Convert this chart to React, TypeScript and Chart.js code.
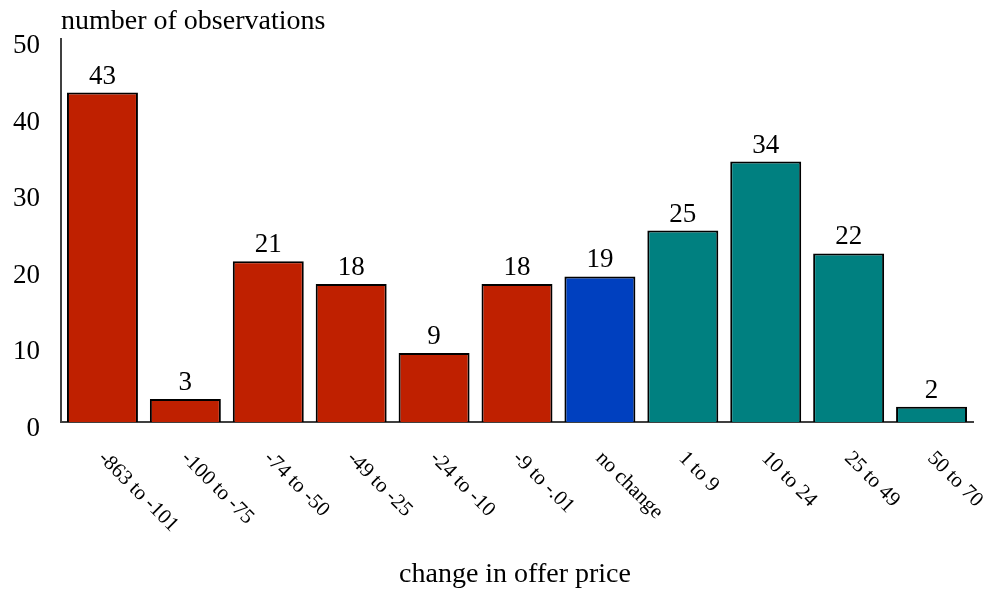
import { useEffect, useRef } from "react";
import { Chart, registerables } from "chart.js";

Chart.register(...registerables);

const categories = [
  "-863 to -101",
  "-100 to -75",
  "-74 to -50",
  "-49 to -25",
  "-24 to -10",
  "-9 to -.01",
  "no change",
  "1 to 9",
  "10 to 24",
  "25 to 49",
  "50 to 70",
];
const observations = [43, 3, 21, 18, 9, 18, 19, 25, 34, 22, 2];
const yTicks = [0, 10, 20, 30, 40, 50];

const RED = "#bf2000";
const BLUE = "#0040bf";
const TEAL = "#008080";
const barColors = categories.map((c, i) => (i < 6 ? RED : c === "no change" ? BLUE : TEAL));

const SERIF = "'Liberation Serif', 'Times New Roman', serif";

const annotations = {
  id: "annotations",
  afterDatasetsDraw(chart: any) {
    const { ctx, chartArea, scales } = chart;
    const meta = chart.getDatasetMeta(0);
    ctx.save();
    ctx.fillStyle = "#000";

    // values above bars
    ctx.font = `27px ${SERIF}`;
    ctx.textAlign = "center";
    ctx.textBaseline = "alphabetic";
    meta.data.forEach((bar: any, i: number) => {
      ctx.fillText(String(observations[i]), bar.x, bar.y - 9);
    });

    // rotated category labels
    ctx.font = `21px ${SERIF}`;
    ctx.textAlign = "left";
    ctx.textBaseline = "middle";
    categories.forEach((c, i) => {
      const x = scales.x.getPixelForValue(i);
      ctx.save();
      ctx.translate(x - 1, chartArea.bottom + 33);
      ctx.rotate(Math.PI / 4);
      ctx.fillText(c, 0, 0);
      ctx.restore();
    });

    // axis titles
    ctx.font = `28px ${SERIF}`;
    ctx.textAlign = "left";
    ctx.textBaseline = "alphabetic";
    ctx.fillText("number of observations", chartArea.left, 29);
    ctx.textAlign = "center";
    ctx.fillText("change in offer price", (chartArea.left + chartArea.right) / 2 - 2, 582);
    ctx.restore();
  },
};

export default function App() {
  const canvasRef = useRef<HTMLCanvasElement>(null);

  useEffect(() => {
    if (!canvasRef.current) return;
    const chart = new Chart(canvasRef.current, {
      type: "bar",
      data: {
        labels: categories,
        datasets: [
          {
            data: observations,
            backgroundColor: barColors,
            borderColor: "#000",
            borderWidth: 2,
            barPercentage: 0.856,
            categoryPercentage: 1,
          },
        ],
      },
      options: {
        animation: false,
        responsive: false,
        maintainAspectRatio: false,
        layout: { padding: { left: 0, right: 17, top: 39, bottom: 0 } },
        plugins: {
          legend: { display: false },
          tooltip: { enabled: false },
          title: { display: false },
        },
        scales: {
          x: {
            grid: { display: false, drawTicks: false },
            border: { display: true, color: "#404040", width: 2 },
            ticks: { display: false },
            afterFit: (scale: any) => {
              scale.height = 170;
            },
          },
          y: {
            min: 0,
            max: 50,
            afterBuildTicks: (scale: any) => {
              scale.ticks = yTicks.map((v) => ({ value: v }));
            },
            grid: { display: false, drawTicks: false },
            border: { display: true, color: "#404040", width: 2 },
            ticks: {
              color: "#000",
              padding: 21,
              labelOffset: 7,
              font: { family: SERIF, size: 27 },
            },
            afterFit: (scale: any) => {
              scale.width = 61;
            },
          },
        },
      },
      plugins: [annotations],
    });
    return () => chart.destroy();
  }, []);

  return (
    <div style={{ position: "fixed", left: 0, top: 0, width: 990, height: 592, background: "#fff" }}>
      <canvas ref={canvasRef} width={990} height={592} />
    </div>
  );
}
